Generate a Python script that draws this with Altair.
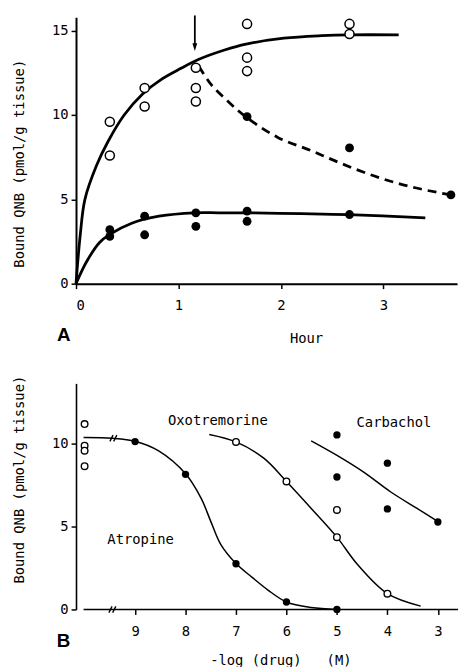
import altair as alt
import pandas as pd

FONT = "DejaVu Sans Mono"
INK = "black"

# ---------------- Panel A data (hours, pmol/g tissue) ----------------
a_open_t = [0.33, 0.33, 0.67, 0.67, 1.17, 1.17, 1.17, 1.67, 1.67, 1.67, 2.67, 2.67]
a_open_v = [9.6, 7.6, 11.6, 10.5, 12.8, 11.6, 10.8, 15.4, 13.4, 12.6, 15.4, 14.8]

a_fill_t = [0.33, 0.33, 0.67, 0.67, 1.17, 1.17, 1.67, 1.67, 2.67]
a_fill_v = [3.2, 2.8, 4.0, 2.9, 4.2, 3.4, 4.3, 3.7, 4.1]

a_wash_t = [1.67, 2.67, 3.66]
a_wash_v = [9.9, 8.05, 5.26]

a_upper_t = [0, 0.04, 0.087, 0.2, 0.31, 0.47, 0.65, 0.83, 1.02, 1.2, 1.45, 1.66, 2.03, 2.4, 2.67, 3.15]
a_upper_v = [0, 2.8, 5.0, 7.0, 8.4, 10.0, 11.25, 12.1, 12.75, 13.3, 13.85, 14.2, 14.55, 14.7, 14.75, 14.75]

a_lower_t = [0, 0.1, 0.23, 0.33, 0.55, 0.81, 1.16, 1.39, 1.66, 2.2, 2.66, 3.41]
a_lower_v = [0, 1.27, 2.44, 2.92, 3.6, 4.0, 4.2, 4.2, 4.2, 4.15, 4.09, 3.9]

a_dash_t = [1.2, 1.32, 1.485, 1.66, 1.97, 2.29, 2.6, 2.95, 3.3, 3.66]
a_dash_v = [12.87, 11.8, 10.8, 9.88, 8.67, 7.9, 7.1, 6.3, 5.7, 5.26]

a_arrow_t = [1.16]
a_arrow_top = [15.9]
a_arrow_tip = [13.8]

a_xticks = [0, 1, 2, 3]
a_yticks = [0, 5, 10, 15]

# ---------------- Panel B data (-log [drug] M, pmol/g tissue) ----------------
b_ctrl_x = [10.0, 10.0, 10.0, 10.0]
b_ctrl_v = [11.15, 9.85, 9.55, 8.62]

b_atro_x = [9, 8, 7, 6, 5]
b_atro_v = [10.1, 8.13, 2.75, 0.45, 0.0]
b_atro_curve_x = [10.02, 9.45, 9.0, 8.54, 8.0, 7.69, 7.5, 7.3, 7.0, 6.68, 6.36, 6.0, 5.51, 5.0]
b_atro_curve_v = [10.34, 10.3, 10.12, 9.55, 8.16, 6.68, 5.3, 3.9, 2.76, 1.93, 1.15, 0.45, 0.12, 0.0]

b_oxo_x = [7, 6, 5, 5, 4]
b_oxo_v = [10.08, 7.7, 4.35, 5.99, 0.95]
b_oxo_curve_x = [7.53, 7.0, 6.45, 6.0, 5.5, 5.0, 4.6, 4.0, 3.34]
b_oxo_curve_v = [10.53, 10.08, 9.1, 7.7, 6.05, 4.35, 2.73, 0.95, 0.2]

b_carb_x = [5, 5, 4, 4, 3]
b_carb_v = [10.5, 7.97, 8.8, 6.05, 5.26]
b_carb_curve_x = [5.51, 4.99, 4.47, 3.94, 3.42, 2.98]
b_carb_curve_v = [10.14, 9.25, 8.26, 7.08, 6.09, 5.26]

b_axis_x = [10.02, 2.6]
b_axis_v = [0, 0]
b_break_x = [9.45, 9.43]
b_break_v = [0, 10.3]

b_xticks = [9, 8, 7, 6, 5, 4, 3]
b_yticks = [0, 5, 10]

b_lab_x = [8.89, 7.36, 3.87]
b_lab_v = [4.15, 11.35, 11.19]
b_lab_text = ["Atropine", "Oxotremorine", "Carbachol"]

panel_letters = ["A", "B"]
a_letter_pos = [-0.12, -3.05]
b_letter_pos = [10.42, -1.9]

YTITLE = "Bound QNB (pmol/g tissue)"
CURVE = "catmull-rom"


def frame(xs, ys):
    return pd.DataFrame({"x": xs, "y": ys})


# ---------------- Panel A ----------------
xA = alt.X("x:Q", scale=alt.Scale(domain=[0, 3.72], nice=False, zero=False),
           axis=alt.Axis(values=a_xticks, format="d", title="Hour", titleX=233,
                         labelPadding=10, titlePadding=20))
yA = alt.Y("y:Q", scale=alt.Scale(domain=[0, 15.8], nice=False),
           axis=alt.Axis(values=a_yticks, format="d", title=YTITLE, titleX=-50, titleY=148,
                         labelPadding=3))

upperA = alt.Chart(frame(a_upper_t, a_upper_v)).mark_line(
    color=INK, strokeWidth=2.8, interpolate=CURVE).encode(x=xA, y=yA)
lowerA = alt.Chart(frame(a_lower_t, a_lower_v)).mark_line(
    color=INK, strokeWidth=2.8, interpolate=CURVE).encode(x=xA, y=yA)
dashA = alt.Chart(frame(a_dash_t, a_dash_v)).mark_line(
    color=INK, strokeWidth=2.8, strokeDash=[9, 6], interpolate=CURVE).encode(x=xA, y=yA)
openA = alt.Chart(frame(a_open_t, a_open_v)).mark_point(
    shape="circle", size=85, filled=True, fill="white", stroke=INK, strokeWidth=1.5, opacity=1
).encode(x=xA, y=yA)
fillA = alt.Chart(frame(a_fill_t + a_wash_t, a_fill_v + a_wash_v)).mark_point(
    shape="circle", size=80, filled=True, color=INK, opacity=1
).encode(x=xA, y=yA)
arrowA = alt.Chart(pd.DataFrame({"x": a_arrow_t, "y": a_arrow_top, "y2": [a_arrow_tip[0] + 0.4]})).mark_rule(
    color=INK, strokeWidth=1.8).encode(x=xA, y=yA, y2="y2:Q")
headA = alt.Chart(frame(a_arrow_t, a_arrow_tip)).mark_point(
    shape="M0,0L-0.55,-1.7L0.55,-1.7Z", size=80, filled=True, color=INK, opacity=1
).encode(x=xA, y=yA)
letterA = alt.Chart(pd.DataFrame({"x": [a_letter_pos[0]], "y": [a_letter_pos[1]], "t": [panel_letters[0]]})).mark_text(
    font="Liberation Sans", fontWeight="bold", fontSize=19, color=INK, baseline="middle", align="center"
).encode(x=xA, y=yA, text="t:N")

panelA = alt.layer(upperA, lowerA, dashA, arrowA, headA, openA, fillA, letterA).properties(width=386, height=270)

# ---------------- Panel B ----------------
xB = alt.X("x:Q", scale=alt.Scale(domain=[2.6, 10.17], nice=False, zero=False, reverse=True),
           axis=alt.Axis(values=b_xticks, format="d", title="-log\u00a0(drug)\u00a0\u00a0\u00a0(M)", titleX=207,
                         domain=False, labelPadding=10, titlePadding=16))
yB = alt.Y("y:Q", scale=alt.Scale(domain=[0, 13.6], nice=False),
           axis=alt.Axis(values=b_yticks, format="d", title=YTITLE, titleX=-50, titleY=97,
                         labelPadding=3, domainWidth=1.6))

axisB = alt.Chart(frame(b_axis_x, b_axis_v)).mark_line(color=INK, strokeWidth=1.6).encode(x=xB, y=yB)
atroLine = alt.Chart(frame(b_atro_curve_x, b_atro_curve_v)).mark_line(
    color=INK, strokeWidth=1.5, interpolate=CURVE).encode(x=xB, y=yB)
oxoLine = alt.Chart(frame(b_oxo_curve_x, b_oxo_curve_v)).mark_line(
    color=INK, strokeWidth=1.5, interpolate=CURVE).encode(x=xB, y=yB)
carbLine = alt.Chart(frame(b_carb_curve_x, b_carb_curve_v)).mark_line(
    color=INK, strokeWidth=1.5, interpolate=CURVE).encode(x=xB, y=yB)
breaks = alt.Chart(frame(b_break_x, b_break_v)).mark_point(
    shape="M-1.1,1L-0.1,-1M0.1,1L1.1,-1", size=40, filled=False, color=INK, strokeWidth=1.4, opacity=1
).encode(x=xB, y=yB)
openB = alt.Chart(frame(b_ctrl_x + b_oxo_x, b_ctrl_v + b_oxo_v)).mark_point(
    shape="circle", size=45, filled=True, fill="white", stroke=INK, strokeWidth=1.4, opacity=1
).encode(x=xB, y=yB)
fillB = alt.Chart(frame(b_atro_x + b_carb_x, b_atro_v + b_carb_v)).mark_point(
    shape="circle", size=55, filled=True, color=INK, opacity=1
).encode(x=xB, y=yB)
labelsB = alt.Chart(pd.DataFrame({"x": b_lab_x, "y": b_lab_v, "t": b_lab_text})).mark_text(
    font=FONT, fontSize=14, color=INK, baseline="middle", align="center"
).encode(x=xB, y=yB, text="t:N")
letterB = alt.Chart(pd.DataFrame({"x": [b_letter_pos[0]], "y": [b_letter_pos[1]], "t": [panel_letters[1]]})).mark_text(
    font="Liberation Sans", fontWeight="bold", fontSize=19, color=INK, baseline="middle", align="center"
).encode(x=xB, y=yB, text="t:N")

panelB = alt.layer(axisB, atroLine, oxoLine, carbLine, breaks, openB, fillB, labelsB, letterB).properties(
    width=387, height=229)

chart = alt.vconcat(panelA, panelB, spacing=29).properties(
    padding={"left": 12, "top": 10, "right": 0, "bottom": 0},
    background="white"
).configure_view(stroke=None).configure_axis(
    grid=False, domainColor=INK, tickColor=INK, labelColor=INK, titleColor=INK,
    labelFont=FONT, titleFont=FONT, labelFontSize=14, titleFontSize=14, titleFontWeight="normal",
    domainWidth=2, tickWidth=1.5, tickSize=5
)

chart.save("out.html", embed_options={"renderer": "svg", "actions": False})
